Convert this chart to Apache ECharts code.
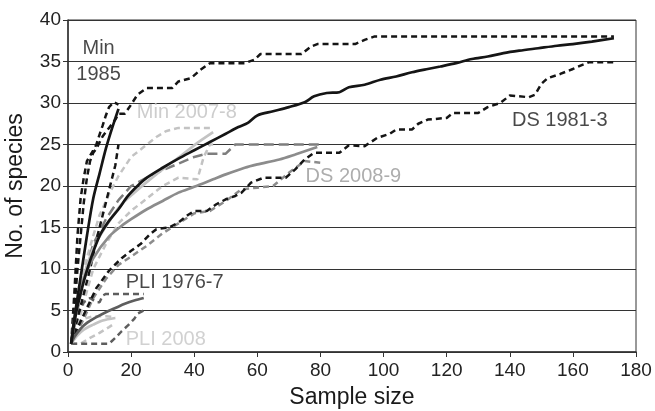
<!DOCTYPE html>
<html><head><meta charset="utf-8">
<script src="https://cdn.jsdelivr.net/npm/echarts@6/dist/echarts.min.js"></script>
<style>html,body{margin:0;padding:0;background:#fff}#c{width:655px;height:411px}</style>
</head><body><div id="c"></div>
<script>
const xTicks = [0,20,40,60,80,100,120,140,160,180];
const yTicks = [0,5,10,15,20,25,30,35,40];

const ds81   = [[1,1],[2,3.5],[3,5.5],[5,8.5],[7,11],[10,14],[13,15.8],[16,17.2],[19,18.8],[22,20],[25,21],[30,22.2],[35,23.3],[40,24.3],[45,25.3],[50,26.3],[54,27.1],[57,27.6],[60,28.5],[65,29],[70,29.5],[75,30.1],[78,30.8],[82,31.2],[86,31.3],[89,31.9],[94,32.2],[99,32.8],[104,33.2],[109,33.7],[114,34.1],[118,34.4],[123,34.8],[128,35.3],[133,35.6],[138,36],[143,36.3],[149,36.6],[155,36.9],[160,37.1],[166,37.4],[173,37.8]];
const ds81Hi = [[1,1],[2,5],[3,10],[4,14],[5,18],[6,21],[7,23],[8,24],[9,24.5],[11,26],[13,27],[15,28],[16,28.7],[18,28.7],[20,29.8],[22,31],[25,31.8],[33,31.8],[35,32.6],[39,33],[42,34],[45,34.8],[56,34.8],[59,35.2],[61,35.9],[74,35.9],[77,36.8],[79,37.1],[91,37.1],[94,37.6],[97,38],[173,38]];
const ds81Lo = [[1,1],[3,2.9],[6,5.3],[9,7.7],[13,9.8],[17,11.3],[20,12.2],[23,13],[26,14.2],[28,14.8],[32,15],[35,15.6],[38,16.5],[40,17],[44,17],[47,17.8],[50,18.4],[53,18.8],[55,19.2],[58,20.4],[62,21],[69,21],[72,22],[75,23.2],[78,24],[86,24],[89,24.9],[94,24.8],[98,25.8],[102,26.3],[104,26.8],[109,26.8],[111,27.5],[114,28],[120,28.2],[122,28.8],[130,28.8],[133,29.5],[137,30],[140,30.9],[146,30.7],[148,31],[150,32.3],[152,33],[156,33.5],[160,34.1],[163,34.6],[165,34.9],[173,34.9]];

const ds08   = [[1,1],[2,4],[3,6],[5,8.8],[8,11.3],[13,13.9],[17,15.2],[20,16],[25,17.2],[30,18.2],[35,19.2],[40,19.9],[46,20.8],[50,21.4],[56,22.2],[60,22.6],[67,23.2],[72,23.8],[79,24.7]];
const ds08Hi = [[1,1],[3,5],[5,9],[8,13],[12,16],[16,18.3],[20,20],[25,21],[30,21.9],[35,22.7],[40,23.5],[44,23.9],[50,23.9],[53,25],[80,25]];
const ds08Lo = [[1,1],[3,2.5],[5,4],[8,6.5],[12,8.8],[16,10.5],[20,11.5],[25,12.8],[30,14.3],[35,15.5],[40,16.7],[45,17],[50,18.2],[55,19.6],[60,19.8],[65,20],[70,21.6],[75,23],[80,22.8]];

const min07   = [[1,1],[3,5.5],[5,9],[8,12.5],[13,15.7],[17,17.8],[21,19.2],[26,20.8],[31,22.3],[36,23.7],[41,25.2],[46,26.5]];
const min07Hi = [[1,1],[3,6],[5,10],[8,14],[10,16.5],[13,19],[16,21.2],[20,23.5],[24,24.7],[28,25.9],[31,26.6],[35,27],[46,27]];
const min07Lo = [[1,1],[3,3],[5,6],[8,10],[12,13],[16,15.5],[20,17],[25,18.5],[30,20],[35,21],[41,20.8],[43,23.5],[45,25],[46,25]];

const min85   = [[1,1],[2,4],[4,9],[6,14],[8,18.5],[10,21.5],[12,24.5],[14,27],[16,29.3]];
const min85Hi = [[1,1],[2,7],[3,14],[4,18.5],[5,21],[6,23],[8,24.3],[9,25],[10,26.2],[11,27.3],[12,28.5],[13,29.5],[14.5,30.1],[16,29.8]];
const min85Lo = [[1,1],[3,4],[5,7],[7,10],[9,13.5],[11,16.5],[13,19.5],[14,21],[15,22.5],[16,25]];

const pli76   = [[1,1],[2,1.8],[4,2.8],[6,3.5],[9,4.2],[12,4.8],[15,5.3],[18,5.8],[21,6.2],[24,6.5]];
const pli76Hi = [[1,1],[2,3],[3,4.5],[5,6],[7,6.5],[9,6],[10,6],[11,6.8],[12,7],[24,7]];
const pli76Lo = [[1,1],[13,1],[15,1.7],[17,2.5],[19,3.2],[21,4],[22,4.6],[24,5]];

const pli08   = [[1,1],[3,2],[5,2.7],[8,3.3],[11,3.8],[15,4.1]];
const pli08Hi = [[1,1],[3,3],[5,4],[8,4.3],[12,4.3],[15,4.2]];
const pli08Lo = [[1,1],[4,1],[7,1.7],[10,2.3],[13,3],[15,3.5]];

const labelTexts = ['Min\n1985','Min 2007-8','DS 1981-3','DS 2008-9','PLI 1976-7','PLI 2008'];

const FONT = 'Liberation Sans, Arial, Helvetica, sans-serif';
function solid(name, data, color, w) {
  return {type:'line', name, data, showSymbol:false, symbol:'none', smooth:0.3,
    lineStyle:{color, width:w||2.7, type:'solid'}, z:3};
}
function dashed(name, data, color, dash, w) {
  return {type:'line', name, data, showSymbol:false, symbol:'none', smooth:false,
    lineStyle:{color, width:w||2.5, type:dash||[6,4]}, z:2};
}
const cLight = '#c3c3c3', cMid = '#8c8c8c', cDark = '#5e5e5e', cBlack = '#151515';

function lbl(text, x, y, color, align) {
  return {type:'scatter', data:[[x,y]], symbolSize:0, silent:true, z:10,
    label:{show:true, formatter:text, position:'inside', color, fontSize:20, fontFamily:FONT,
      align:align||'left', verticalAlign:'middle', lineHeight:26}};
}

const series = [
  dashed('pli08Hi', pli08Hi, cLight), dashed('pli08Lo', pli08Lo, cLight), solid('pli08', pli08, cLight),
  dashed('min07Hi', min07Hi, cLight), dashed('min07Lo', min07Lo, cLight), solid('min07', min07, cLight),
  dashed('ds08Hi', ds08Hi, '#7e7e7e', [10,5]), dashed('ds08Lo', ds08Lo, cMid), solid('ds08', ds08, cMid),
  dashed('pli76Hi', pli76Hi, cDark), dashed('pli76Lo', pli76Lo, cDark), solid('pli76', pli76, cDark),
  dashed('ds81Hi', ds81Hi, cBlack), dashed('ds81Lo', ds81Lo, cBlack), solid('ds81', ds81, cBlack),
  dashed('min85Hi', min85Hi, cBlack), dashed('min85Lo', min85Lo, cBlack), solid('min85', min85, cBlack),
  lbl(labelTexts[0], 9.7, 35.05, '#1a1a1a', 'center'),
  lbl(labelTexts[1], 21.8, 28.9, '#c0c0c0'),
  lbl(labelTexts[2], 140.7, 27.95, '#1a1a1a'),
  lbl(labelTexts[3], 75.3, 21.1, '#999999'),
  lbl(labelTexts[4], 18.3, 8.4, '#1a1a1a'),
  lbl(labelTexts[5], 18.3, 1.45, '#c6c6c6')
];

const chart = echarts.init(document.getElementById('c'), null, {renderer:'canvas'});
chart.setOption({
  animation:false,
  backgroundColor:'#fff',
  grid:{left:68, right:19, top:20, bottom:59, show:true, borderColor:'#333', borderWidth:1,
    backgroundColor:'transparent', containLabel:false, outerBoundsMode:'none'},
  xAxis:{type:'value', min:xTicks[0], max:xTicks[xTicks.length-1], interval:20,
    name:'Sample size', nameLocation:'middle', nameGap:34,
    nameTextStyle:{fontSize:23, color:'#1a1a1a', fontFamily:FONT},
    axisLine:{show:true, lineStyle:{color:'#333', width:1.5}},
    axisTick:{show:true, length:5, lineStyle:{color:'#333'}},
    axisLabel:{fontSize:19, color:'#222', fontFamily:FONT, margin:9},
    splitLine:{show:false}},
  yAxis:{type:'value', min:yTicks[0], max:yTicks[yTicks.length-1], interval:5,
    name:'No. of species', nameLocation:'middle', nameGap:41,
    nameTextStyle:{fontSize:23, color:'#1a1a1a', fontFamily:FONT},
    axisLine:{show:true, lineStyle:{color:'#333', width:1.5}},
    axisTick:{show:true, length:5, lineStyle:{color:'#333'}},
    axisLabel:{fontSize:19, color:'#222', fontFamily:FONT, margin:7},
    splitLine:{show:true, lineStyle:{color:'#333', width:1}}},
  series
});
</script></body></html>
